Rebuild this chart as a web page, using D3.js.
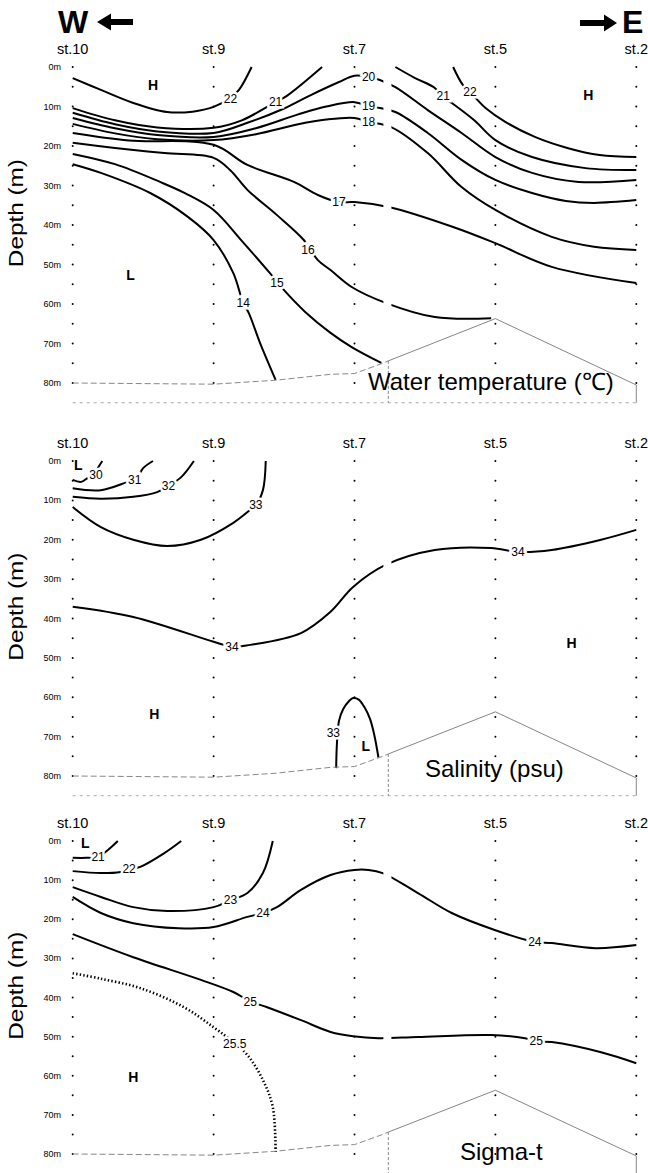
<!DOCTYPE html>
<html lang="en">
<head>
<meta charset="utf-8">
<script src="https://d3js.org/d3.v7.min.js"></script>
<title>Section: water temperature, salinity, sigma-t</title>
<style>
  body { margin: 0; padding: 0; background: #fff; }
  svg { display: block; font-family: "Liberation Sans", Arial, sans-serif; }
</style>
</head>
<body>
<svg id="chart" width="648" height="1173"></svg>
<script>
// stations, west -> east (x value = station index)
var stations = ["st.10", "st.9", "st.7", "st.5", "st.2"];
var depthTicks = [0, 10, 20, 30, 40, 50, 60, 70, 80];
var sampleDepths = [0, 5, 10, 15, 20, 25, 30, 35, 40, 45, 50, 55, 60, 65, 70, 75, 80];

// sea bottom [station index, depth m]
var bottom = [[0, 80], [1, 80.3], [1.44, 79.3], [1.83, 77.8], [2, 77.6], [2.2, 75], [2.24, 74.4], [3, 63.7], [4, 80.5]];

// ---- water temperature isolines [x, depth]
var t22w = [[0, 2.8], [0.2, 5.8], [0.43, 9.1], [0.67, 11.4], [0.85, 11.3], [1, 10.1], [1.12, 7.8], [1.18, 5.8], [1.27, 0]];
var t22e = [[2.7, 0], [2.77, 4.6], [2.85, 7.5], [2.93, 10.4], [3.07, 13.9], [3.28, 17.7], [3.51, 20.5], [3.74, 22.3], [4, 22.8]];
var t21w = [[0, 10.4], [0.3, 13.5], [0.6, 15.3], [1, 15.4], [1.2, 13.5], [1.38, 10.1], [1.44, 8.9], [1.52, 7.3], [1.77, 0]];
var t21e = [[2.29, 0], [2.43, 2.8], [2.57, 5.3], [2.63, 7.6], [2.69, 9.1], [2.85, 13.5], [3, 18.5], [3.26, 22.8], [3.64, 25.6], [4, 26.1]];
var t20 = [[0, 11.6], [0.3, 14.5], [0.6, 16.3], [1, 16.7], [1.25, 14], [1.5, 10.5], [1.69, 7.1], [1.89, 3.8], [2, 2.2], [2.1, 2.5], [2.18, 3.3], [2.29, 5.1], [2.52, 10.9], [2.76, 16.7], [3, 22.8], [3.26, 26.8], [3.59, 29.1], [4, 28.6]];
var t19 = [[0, 12.9], [0.3, 15.5], [0.6, 17.2], [1, 17.7], [1.3, 15.5], [1.6, 12], [1.8, 10], [2, 8.9], [2.1, 9.9], [2.18, 10.4], [2.29, 11.4], [2.52, 16.7], [2.76, 23.5], [3, 28.6], [3.26, 31.9], [3.5, 33.9], [3.7, 34.4], [4, 33.7]];
var t18 = [[0, 14.4], [0.3, 16.8], [0.6, 18.3], [1, 18.5], [1.3, 17], [1.6, 14.5], [1.8, 13.3], [2, 12.9], [2.1, 13.9], [2.26, 15.2], [2.52, 21.8], [2.76, 30.4], [3, 36.2], [3.4, 43], [3.7, 45.5], [4, 46.3]];
var t17 = [[0, 16.7], [0.4, 18.6], [1, 19.7], [1.24, 24.8], [1.57, 29.1], [1.74, 32.4], [1.89, 34.2], [2, 34.2], [2.25, 35.5], [2.7, 40.5], [3, 44.6], [3.4, 50.6], [4, 54.7]];
var t16 = [[0, 19.2], [0.3, 20.5], [0.65, 21.8], [1, 23], [1.12, 26.2], [1.24, 31.1], [1.45, 37.5], [1.64, 43.8], [1.74, 48.9], [1.83, 51.4], [1.98, 55.7], [2.22, 59.7], [2.57, 63.3], [2.97, 63.6]];
var t15 = [[0, 22], [0.3, 24.6], [0.62, 29.1], [0.8, 32], [1, 36.2], [1.2, 44], [1.4, 52.2], [1.5, 56.5], [1.65, 62], [1.83, 67.3], [1.98, 70.9], [2.19, 74.9]];
var t14 = [[0, 24.6], [0.2, 26.8], [0.55, 31.9], [0.82, 38], [1, 43.8], [1.14, 52.2], [1.21, 59.7], [1.25, 62.3], [1.33, 69.9], [1.44, 79.2]];
var tempLines = [t22w, t22e, t21w, t21e, t20, t19, t18, t17, t16, t15, t14];
var tempLabels = [["22", 1.12, 8.1], ["22", 2.82, 6.3], ["21", 1.44, 8.9], ["21", 2.63, 7.4], ["20", 2.1, 2.6],
  ["19", 2.1, 9.9], ["18", 2.1, 13.9], ["17", 1.89, 34.2], ["16", 1.67, 46.3], ["15", 1.45, 54.7], ["14", 1.21, 59.7]];
var tempMarks = [["H", 0.57, 4.6], ["H", 3.66, 7.1], ["L", 0.41, 52.7]];

// ---- salinity isolines
var s30 = [[0, 4.8], [0.06, 5.3], [0.11, 4.2], [0.16, 3.2], [0.18, 1.7], [0.21, 0]];
var s31 = [[0, 6.9], [0.2, 7.4], [0.39, 5.3], [0.45, 4.6], [0.5, 1.8], [0.57, 0]];
var s32 = [[0, 9.1], [0.2, 9.6], [0.43, 9.1], [0.6, 7.9], [0.68, 6.3], [0.77, 4.1], [0.86, 0]];
var s33a = [[0, 11.7], [0.2, 16.8], [0.43, 20], [0.67, 21.6], [0.91, 20], [1.14, 15.7], [1.26, 12.4], [1.3, 11.2], [1.35, 7.4], [1.37, 0]];
var s34 = [[0, 37], [0.43, 39.6], [1, 45.9], [1.13, 47.2], [1.26, 46.7], [1.62, 43.7], [1.83, 38.3], [1.99, 32], [2.22, 26.4], [2.57, 22.6], [2.97, 22.1], [3.16, 23.1], [3.4, 22.6], [3.75, 20], [4, 17.5]];
var s33b = [[1.87, 78], [1.875, 72], [1.89, 66], [1.92, 63], [1.96, 61], [1.99, 60.2], [2.03, 60.6], [2.07, 62.5], [2.11, 65.5], [2.14, 69.5], [2.17, 75.3]];
var salLines = [s30, s31, s32, s33a, s34, s33b];
var salLabels = [["30", 0.165, 3.6], ["31", 0.44, 4.8], ["32", 0.68, 6.3], ["33", 1.3, 11.2], ["34", 1.13, 47.2], ["34", 3.16, 23.1], ["33", 1.85, 69]];
var salMarks = [["L", 0.04, 1.0], ["L", 2.08, 72.3], ["H", 3.54, 46.2], ["H", 0.58, 64.2]];

// ---- sigma-t isolines
var g21 = [[0, 4.3], [0.1, 4.3], [0.18, 4.1], [0.25, 2.3], [0.32, 0]];
var g22 = [[0, 7.7], [0.2, 8.2], [0.34, 7.9], [0.4, 7.2], [0.48, 6.6], [0.65, 3.1], [0.77, 0]];
var g23 = [[0, 11.8], [0.2, 14.3], [0.43, 16.9], [0.67, 17.9], [1, 16.9], [1.12, 15.1], [1.24, 13.3], [1.35, 8.2], [1.42, 0]];
var g24 = [[0, 14.3], [0.2, 18.4], [0.43, 21], [0.75, 22.3], [1, 22], [1.24, 19.4], [1.35, 18.4], [1.45, 16.9], [1.62, 12.5], [1.83, 8.7], [2, 7.4], [2.1, 7.4], [2.2, 8.2], [2.45, 13.3], [2.69, 18.4], [3, 22.8], [3.28, 25.8], [3.4, 26.1], [3.71, 27.4], [4, 26.6]];
var g25 = [[0, 23.8], [0.43, 29.7], [0.91, 35.5], [1.14, 38.6], [1.26, 41], [1.38, 42.5], [1.62, 45.8], [1.83, 48.8], [1.99, 49.9], [2.17, 50.4], [2.45, 50.1], [2.97, 49.6], [3.21, 50.4], [3.29, 51.2], [3.4, 51.4], [3.75, 54], [4, 56.8]];
var g255 = [[0, 33.8], [0.2, 35.2], [0.48, 37.6], [0.79, 42.5], [1, 47.6], [1.14, 51.4], [1.24, 54.7], [1.35, 61.1], [1.42, 68], [1.44, 79.5]];
var sigLines = [g21, g22, g23, g24, g25, g255];
var sigDotted = [g255];
var sigLabels = [["21", 0.18, 4.1], ["22", 0.4, 7.2], ["23", 1.12, 15.1], ["24", 1.35, 18.4], ["24", 3.28, 25.8],
  ["25", 1.26, 41.2], ["25", 3.29, 51.2], ["25.5", 1.15, 51.8]];
var sigMarks = [["L", 0.09, 0.5], ["H", 0.43, 60.4]];

var svg = d3.select("#chart");
var x = d3.scaleLinear().domain([0, 4]).range([72.7, 636.3]);

var panels = [
  { top: 67, bot: 383, lines: tempLines, dotted: [], labels: tempLabels, marks: tempMarks,
    title: "Water temperature (\u2103)", titleX: 368, titleD: 81.8 },
  { top: 461, bot: 776, lines: salLines, dotted: [], labels: salLabels, marks: salMarks,
    title: "Salinity (psu)", titleX: 425, titleD: 80.3 },
  { top: 841, bot: 1154, lines: sigLines, dotted: sigDotted, labels: sigLabels, marks: sigMarks,
    title: "Sigma-t", titleX: 460, titleD: 81.6 }
];

panels.forEach(function (p) {
  var y = d3.scaleLinear().domain([0, 80]).range([p.top, p.bot]);
  var g = svg.append("g");

  // station names
  g.selectAll(".st").data(stations).enter().append("text")
    .attr("x", function (d, i) { return x(i); })
    .attr("y", y(0) - 13.5)
    .attr("text-anchor", "middle")
    .attr("font-size", 14.5)
    .text(function (d) { return d; });

  // depth ticks
  g.selectAll(".dt").data(depthTicks).enter().append("text")
    .attr("x", 61)
    .attr("y", function (d) { return y(d); })
    .attr("text-anchor", "end")
    .attr("dominant-baseline", "central")
    .attr("font-size", 9)
    .text(function (d) { return d + "m"; });

  g.append("text")
    .attr("transform", "translate(23," + y(37) + ") rotate(-90)")
    .attr("text-anchor", "middle")
    .attr("font-size", 20)
    .attr("textLength", 108)
    .attr("lengthAdjust", "spacingAndGlyphs")
    .text("Depth (m)");

  // sampling dots on each station
  stations.forEach(function (s, i) {
    g.selectAll(null).data(sampleDepths).enter().append("circle")
      .attr("cx", x(i))
      .attr("cy", function (d) { return y(d); })
      .attr("r", 1)
      .attr("fill", "#000");
  });

  // isolines
  var line = d3.line()
    .x(function (d) { return x(d[0]); })
    .y(function (d) { return y(d[1]); })
    .curve(d3.curveCatmullRom.alpha(0.5));

  g.selectAll(".iso").data(p.lines).enter().append("path")
    .attr("d", line)
    .attr("fill", "none")
    .attr("stroke", "#000")
    .attr("stroke-width", function (d) { return p.dotted.indexOf(d) >= 0 ? 2.6 : 2; })
    .attr("stroke-dasharray", function (d) { return p.dotted.indexOf(d) >= 0 ? "1.4,2.2" : null; });

  // seam in the original drawing
  g.append("rect")
    .attr("x", x(2.205)).attr("y", y(0) - 2)
    .attr("width", x(2.262) - x(2.205)).attr("height", y(80) - y(0))
    .attr("fill", "#fff");

  // isoline labels
  g.selectAll(".lab").data(p.labels).enter().append("text")
    .attr("x", function (d) { return x(d[1]); })
    .attr("y", function (d) { return y(d[2]); })
    .attr("text-anchor", "middle")
    .attr("dominant-baseline", "central")
    .attr("font-size", 12)
    .attr("stroke", "#fff")
    .attr("stroke-width", 5)
    .attr("paint-order", "stroke")
    .attr("fill", "#000")
    .text(function (d) { return d[0]; });

  g.selectAll(".mk").data(p.marks).enter().append("text")
    .attr("x", function (d) { return x(d[1]); })
    .attr("y", function (d) { return y(d[2]); })
    .attr("text-anchor", "middle")
    .attr("dominant-baseline", "central")
    .attr("font-size", 14)
    .attr("font-weight", "bold")
    .text(function (d) { return d[0]; });

  // sea bottom
  var straight = d3.line()
    .x(function (d) { return x(d[0]); })
    .y(function (d) { return y(d[1]); });
  var west = bottom.filter(function (d) { return d[0] <= 2.24; });
  var east = bottom.filter(function (d) { return d[0] >= 2.24; });
  g.append("path").attr("d", straight(west)).attr("fill", "none")
    .attr("stroke", "#888").attr("stroke-width", 1).attr("stroke-dasharray", "6,3");
  g.append("path").attr("d", straight(east)).attr("fill", "none")
    .attr("stroke", "#777").attr("stroke-width", 0.9);
  g.append("path").attr("d", straight([[0, 85], [4, 85]])).attr("fill", "none")
    .attr("stroke", "#aaa").attr("stroke-width", 1).attr("stroke-dasharray", "3,4");
  g.append("path").attr("d", straight([[2.24, 74.4], [2.24, 85]]))
    .attr("stroke", "#888").attr("stroke-width", 1).attr("stroke-dasharray", "3,2");
  g.append("path").attr("d", straight([[4, 80.5], [4, 85]]))
    .attr("stroke", "#888").attr("stroke-width", 1);

  g.append("text")
    .attr("x", p.titleX)
    .attr("y", y(p.titleD))
    .attr("font-size", 24)
    .text(p.title);
});

// direction arrows
svg.append("text").attr("x", 58).attr("y", 33).attr("font-size", 32).attr("font-weight", "bold").text("W");
svg.append("path").attr("d", "M97,22 L111,13.5 L111,19 L133,19 L133,25 L111,25 L111,30.5 Z").attr("fill", "#000");
svg.append("path").attr("d", "M617,23 L604,14.5 L604,20 L580,20 L580,26 L604,26 L604,31.5 Z").attr("fill", "#000");
svg.append("text").attr("x", 622).attr("y", 33).attr("font-size", 32).attr("font-weight", "bold").text("E");
</script>
</body>
</html>
